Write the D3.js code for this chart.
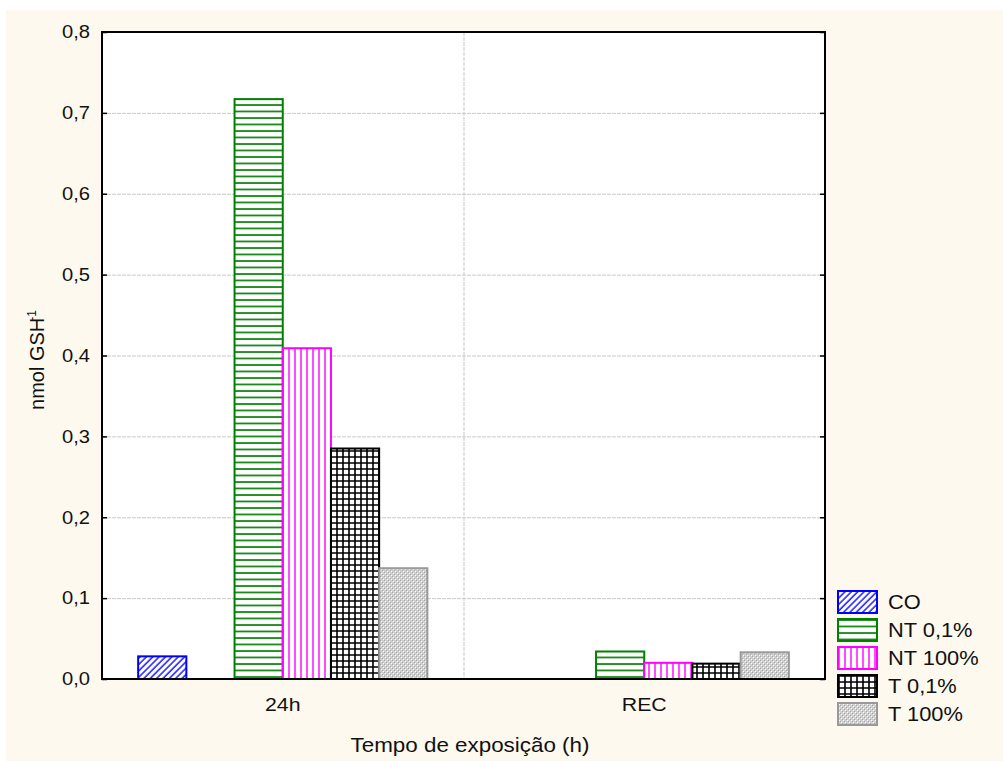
<!DOCTYPE html>
<html>
<head>
<meta charset="utf-8">
<script src="https://cdn.jsdelivr.net/npm/d3@7"></script>
<style>
  body { margin: 0; background: #fff; }
  text { font-family: "Liberation Sans", Arial, sans-serif; fill: #111; }
</style>
</head>
<body>
<svg id="chart" width="1003" height="761"></svg>
<script>
// data
var categories = ["24h", "REC"];
var series = ["CO", "NT 0,1%", "NT 100%", "T 0,1%", "T 100%"];
var slots = ["CO", "", "NT 0,1%", "NT 100%", "T 0,1%", "T 100%"]; // one slot stays empty
var coValues = [0.028, null];
var nt01Values = [0.717, 0.034];
var nt100Values = [0.409, 0.020];
var t01Values = [0.285, 0.019];
var t100Values = [0.137, 0.033];
var yTicks = [0, 0.1, 0.2, 0.3, 0.4, 0.5, 0.6, 0.7, 0.8];

var valuesBySeries = {
    "CO": coValues,
    "NT 0,1%": nt01Values,
    "NT 100%": nt100Values,
    "T 0,1%": t01Values,
    "T 100%": t100Values
};

var plotL = 102, plotR = 825, plotT = 32, plotB = 679;
var sx = 1.12; // text is a bit wide in the reference

var svg = d3.select("#chart");

// cream panel
svg.append("rect")
    .attr("x", 6).attr("y", 10)
    .attr("width", 997).attr("height", 751)
    .attr("fill", "#fdf9ee");

// patterns
var defs = svg.append("defs");

var p = defs.append("pattern").attr("id", "pat-co")
    .attr("patternUnits", "userSpaceOnUse")
    .attr("width", 4.5).attr("height", 4.5)
    .attr("patternTransform", "rotate(45)");
p.append("rect").attr("width", 4.5).attr("height", 4.5).attr("fill", "#fff");
p.append("line").attr("x1", 1).attr("y1", 0).attr("x2", 1).attr("y2", 4.5)
    .attr("stroke", "#1a1aff").attr("stroke-width", 1.5);

p = defs.append("pattern").attr("id", "pat-nt01")
    .attr("patternUnits", "userSpaceOnUse")
    .attr("width", 10).attr("height", 6.5);
p.append("rect").attr("width", 10).attr("height", 6.5).attr("fill", "#fff");
p.append("line").attr("x1", 0).attr("y1", 1).attr("x2", 10).attr("y2", 1)
    .attr("stroke", "#0a820a").attr("stroke-width", 1.7);

p = defs.append("pattern").attr("id", "pat-nt100")
    .attr("patternUnits", "userSpaceOnUse")
    .attr("width", 6).attr("height", 10);
p.append("rect").attr("width", 6).attr("height", 10).attr("fill", "#fff");
p.append("line").attr("x1", 1).attr("y1", 0).attr("x2", 1).attr("y2", 10)
    .attr("stroke", "#ff00ff").attr("stroke-width", 1.4);

p = defs.append("pattern").attr("id", "pat-t01")
    .attr("patternUnits", "userSpaceOnUse")
    .attr("width", 6).attr("height", 6);
p.append("rect").attr("width", 6).attr("height", 6).attr("fill", "#fff");
p.append("path").attr("d", "M1,0V6M0,1H6")
    .attr("stroke", "#000").attr("stroke-width", 1.6);

p = defs.append("pattern").attr("id", "pat-t100")
    .attr("patternUnits", "userSpaceOnUse")
    .attr("width", 4).attr("height", 4);
p.append("rect").attr("width", 4).attr("height", 4).attr("fill", "#cfcfcf");
p.append("rect").attr("x", 1).attr("y", 1).attr("width", 1).attr("height", 1).attr("fill", "#fff");
p.append("rect").attr("x", 3).attr("y", 3).attr("width", 1).attr("height", 1).attr("fill", "#fff");
p.append("rect").attr("x", 0).attr("y", 0).attr("width", 1).attr("height", 1).attr("fill", "#a8a8a8");
p.append("rect").attr("x", 2).attr("y", 2).attr("width", 1).attr("height", 1).attr("fill", "#a8a8a8");

var fills = {
    "CO": "url(#pat-co)",
    "NT 0,1%": "url(#pat-nt01)",
    "NT 100%": "url(#pat-nt100)",
    "T 0,1%": "url(#pat-t01)",
    "T 100%": "url(#pat-t100)"
};
var strokes = {
    "CO": "#0000ff",
    "NT 0,1%": "#008000",
    "NT 100%": "#ff00ff",
    "T 0,1%": "#000000",
    "T 100%": "#999999"
};

// scales
var x0 = d3.scaleBand().domain(categories).range([plotL, plotR]);
var x1 = d3.scaleBand().domain(slots)
    .range([x0.bandwidth() * 0.1, x0.bandwidth() * 0.9]);
var y = d3.scaleLinear().domain([0, 0.8]).range([plotB, plotT]);

// plot area
svg.append("rect")
    .attr("x", plotL).attr("y", plotT)
    .attr("width", plotR - plotL).attr("height", plotB - plotT)
    .attr("fill", "#fff");

// grid
svg.append("g").selectAll("line")
    .data(yTicks.slice(1, -1))
    .join("line")
    .attr("x1", plotL).attr("x2", plotR)
    .attr("y1", d => y(d) + 0.5).attr("y2", d => y(d) + 0.5)
    .attr("stroke", "#c8c8c8").attr("stroke-width", 1)
    .attr("stroke-dasharray", "4,1");

svg.append("line")
    .attr("x1", x0("REC") + 0.5).attr("x2", x0("REC") + 0.5)
    .attr("y1", plotT).attr("y2", plotB)
    .attr("stroke", "#c8c8c8").attr("stroke-width", 1)
    .attr("stroke-dasharray", "4,1");

// bars
var barData = [];
categories.forEach(function (c, i) {
    series.forEach(function (s) {
        var v = valuesBySeries[s][i];
        if (v != null) barData.push({ cat: c, key: s, value: v });
    });
});

svg.append("g").selectAll("rect")
    .data(barData)
    .join("rect")
    .attr("x", d => x0(d.cat) + x1(d.key))
    .attr("y", d => y(d.value))
    .attr("width", x1.bandwidth())
    .attr("height", d => y(0) - y(d.value))
    .attr("fill", d => fills[d.key])
    .attr("stroke", d => strokes[d.key])
    .attr("stroke-width", 2);

// frame
svg.append("rect")
    .attr("x", plotL).attr("y", plotT)
    .attr("width", plotR - plotL).attr("height", plotB - plotT)
    .attr("fill", "none").attr("stroke", "#000").attr("stroke-width", 2);

// axes with inward ticks
var fmt = d => d3.format(".1f")(d).replace(".", ",");

var yAxis = svg.append("g")
    .attr("transform", "translate(" + plotL + ",0)")
    .call(d3.axisLeft(y).tickValues(yTicks).tickSize(-5).tickPadding(12).tickFormat(fmt));
yAxis.select(".domain").remove();
yAxis.selectAll("line").attr("stroke-width", 1.5);
yAxis.selectAll("text")
    .attr("font-size", 18)
    .attr("fill", "#111")
    .attr("x", -12 / sx)
    .attr("transform", "scale(" + sx + ",1)");

var yAxisR = svg.append("g")
    .attr("transform", "translate(" + plotR + ",0)")
    .call(d3.axisRight(y).tickValues(yTicks).tickSize(-5).tickFormat(""));
yAxisR.select(".domain").remove();
yAxisR.selectAll("line").attr("stroke-width", 1.5);

// category labels
svg.append("g").selectAll("text")
    .data(categories)
    .join("text")
    .attr("transform", d => "translate(" + (x0(d) + x0.bandwidth() / 2) + ",711) scale(" + sx + ",1)")
    .attr("text-anchor", "middle")
    .attr("font-size", 19)
    .text(d => d);

// axis titles
svg.append("text")
    .attr("transform", "translate(470,752) scale(" + sx + ",1)")
    .attr("text-anchor", "middle")
    .attr("font-size", 20)
    .text("Tempo de exposição (h)");

var yl = svg.append("text")
    .attr("transform", "translate(44,360) rotate(-90)")
    .attr("text-anchor", "middle")
    .attr("font-size", 20);
yl.append("tspan").text("nmol GSH");
yl.append("tspan").attr("font-size", 12).attr("dx", -3).attr("dy", -8).text("-1");

// legend
var legend = svg.append("g").selectAll("g")
    .data(series)
    .join("g")
    .attr("transform", (d, i) => "translate(838," + (591 + i * 28) + ")");

legend.append("rect")
    .attr("width", 39).attr("height", 22)
    .attr("fill", d => fills[d])
    .attr("stroke", d => strokes[d])
    .attr("stroke-width", 2);

legend.append("text")
    .attr("transform", "translate(50,18) scale(" + sx + ",1)")
    .attr("font-size", 19.5)
    .text(d => d);
</script>
</body>
</html>
